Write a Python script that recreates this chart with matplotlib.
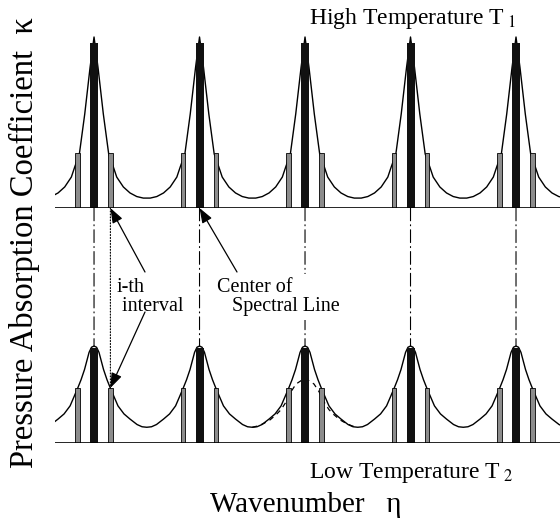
import numpy as np
import matplotlib
matplotlib.use("Agg")
import matplotlib.pyplot as plt
from matplotlib.patches import ConnectionPatch

plt.rcParams["font.family"] = ["Liberation Serif", "DejaVu Serif"]
plt.rcParams["mathtext.fontset"] = "stix"

# line positions (wavenumber, line spacing = 1)
line_centers = [1, 2, 3, 4, 5]
interval_offset = 0.155          # half width of the i-th interval around a line
interval_bar_height = 0.322

# line strengths drawn as black bars
strength_high = [0.965, 0.965, 0.965, 0.965, 0.965]
strength_low = [0.557, 0.557, 0.557, 0.557, 0.557]

# half profile of kappa between a line center and the midpoint to the next line
high_dx = [0, 0.038, 0.088, 0.139, 0.183, 0.215, 0.278, 0.341, 0.405, 0.467, 0.5]
high_k = [1.0, 0.82, 0.55, 0.316, 0.24, 0.181, 0.123, 0.088, 0.067, 0.058, 0.058]

low_dx = [0, 0.024, 0.047, 0.090, 0.123, 0.152, 0.190, 0.227, 0.284, 0.341, 0.408, 0.455, 0.5]
low_k = [0.567, 0.56, 0.53, 0.43, 0.37, 0.325, 0.27, 0.217, 0.17, 0.14, 0.108, 0.095, 0.092]

# single broadened line shown dashed around the third line
single_center = 3
single_dx = [0, 0.085, 0.133, 0.180, 0.227, 0.275, 0.332, 0.389, 0.445, 0.5]
single_k = [0.38, 0.345, 0.30, 0.24, 0.195, 0.165, 0.135, 0.115, 0.10, 0.092]


def mirror(center, dx, k):
    dx = np.asarray(dx)
    k = np.asarray(k)
    x = np.concatenate([center - dx[::-1], center + dx[1:]])
    y = np.concatenate([k[::-1], k[1:]])
    return x, y


def band(centers, dx, k):
    xs, ys = [], []
    for c in centers:
        x, y = mirror(c, dx, k)
        if xs:
            x, y = x[1:], y[1:]
        xs.append(x)
        ys.append(y)
    return np.concatenate(xs), np.concatenate(ys)


W, H = 560, 532
fig = plt.figure(figsize=(W / 100, H / 100), dpi=100)


def fx(px):
    return px / W


def fy(py):
    return 1 - py / H


def panel(baseline_px):
    ax = fig.add_axes([fx(55), fy(baseline_px), fx(505), 180 / H])
    ax.set_xlim(0.63, 5.417)
    ax.set_ylim(0, 180 / 171)
    ax.axis("off")
    return ax


ax_hi = panel(208)
ax_lo = panel(443)

for ax, strength, dx, k in ((ax_hi, strength_high, high_dx, high_k),
                            (ax_lo, strength_low, low_dx, low_k)):
    x, y = band(line_centers, dx, k)
    ax.plot(x, y, color="black", lw=1.0, zorder=2)
    ax.bar(line_centers, strength, width=0.076, color="#111111", zorder=3)
    edges = [c + s * interval_offset for c in line_centers for s in (-1, 1)]
    ax.bar(edges, interval_bar_height, width=0.042, color="#8c8c8c",
           edgecolor="black", linewidth=0.6, zorder=3)
    ax.axhline(0, color="black", lw=1.2, zorder=4)

xs, ys = mirror(single_center, single_dx, single_k)
ax_lo.plot(xs, ys, color="black", lw=0.9, dashes=(4, 3.5), zorder=1)

# dash-dot guides from each line center down to the low temperature peak
for c in line_centers:
    con = ConnectionPatch(xyA=(c, 0), coordsA=ax_hi.transData,
                          xyB=(c, low_k[0]), coordsB=ax_lo.transData,
                          color="black", lw=0.8,
                          linestyle=(0, (11.5, 3.6, 0.9, 3.6)), zorder=0)
    fig.add_artist(con)

edge = line_centers[0] + interval_offset
dotted = ConnectionPatch(xyA=(edge, 0), coordsA=ax_hi.transData,
                         xyB=(edge, interval_bar_height), coordsB=ax_lo.transData,
                         color="black", lw=0.8, linestyle=":", zorder=0)
fig.add_artist(dotted)

arrow = dict(arrowstyle="-|>,head_length=0.6,head_width=0.22",
             mutation_scale=15, color="black", lw=0.9, shrinkA=0, shrinkB=0)
ax_hi.annotate("", xy=(edge, 0), xycoords="data",
               xytext=(145, H - 272), textcoords="figure pixels",
               arrowprops=arrow, annotation_clip=False)
ax_lo.annotate("", xy=(edge, interval_bar_height), xycoords="data",
               xytext=(145, H - 312), textcoords="figure pixels",
               arrowprops=arrow, annotation_clip=False)
ax_hi.annotate("", xy=(line_centers[1], 0), xycoords="data",
               xytext=(237, H - 272), textcoords="figure pixels",
               arrowprops=arrow, annotation_clip=False)

fig.text(fx(117), fy(311), "i-th\n interval", fontsize=14.5,
         ha="left", va="baseline", linespacing=1.0)
fig.text(fx(217), fy(311), "Center of\n   Spectral Line", fontsize=14.5,
         ha="left", va="baseline", linespacing=1.0, zorder=5,
         bbox=dict(facecolor="white", edgecolor="none", pad=3))

fig.text(fx(309), fy(24), r"High Temperature T$_{\,\,1}$", fontsize=17,
         ha="left", va="baseline")
fig.text(fx(309), fy(478), r"Low Temperature T$_{\,\,2}$", fontsize=17,
         ha="left", va="baseline")
fig.text(fx(210), fy(512), "Wavenumber   η", fontsize=21,
         ha="left", va="baseline")
fig.text(fx(24), fy(243), "Pressure Absorption Coefficient  κ", fontsize=23.5,
         rotation=90, ha="center", va="center")

fig.savefig("out.png", dpi=100)
